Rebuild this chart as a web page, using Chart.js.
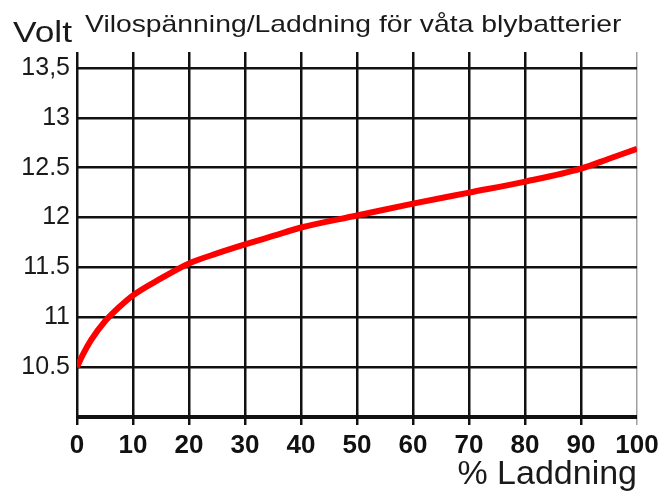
<!DOCTYPE html>
<html>
<head>
<meta charset="utf-8">
<script src="https://cdn.jsdelivr.net/npm/chart.js@4.4.0/dist/chart.umd.min.js"></script>
<style>
  html, body { margin: 0; padding: 0; background: #fff; }
  #wrap { width: 658px; height: 496px; }
</style>
</head>
<body>
<div id="wrap"><canvas id="chart" width="658" height="496"></canvas></div>
<script>
// charge in percent and the resting voltage
const chargePct = [0, 1, 2.5, 5, 7.5, 10, 15, 20, 25, 30, 35, 40, 50, 60, 70, 80, 90, 95, 100];
const voltage = [10.5, 10.62, 10.77, 10.96, 11.1, 11.22, 11.39, 11.54, 11.64, 11.73, 11.815, 11.9, 12.02, 12.14, 12.25, 12.36, 12.49, 12.59, 12.69];

const xTickValues = [0, 10, 20, 30, 40, 50, 60, 70, 80, 90, 100];
const yTickValues = [10, 10.5, 11, 11.5, 12, 12.5, 13, 13.5];
const yTickLabels = ['', '10.5', '11', '11.5', '12', '12.5', '13', '13,5'];

const titleText = 'Vilospänning/Laddning för våta blybatterier';
const yAxisText = 'Volt';
const xAxisText = '% Laddning';

// the top texts are a bit wider than the font, so stretch them sideways
function stretchedText(ctx, text, x, y, size, stretch) {
    ctx.save();
    ctx.font = size + 'px "Liberation Sans", Arial, sans-serif';
    ctx.fillStyle = '#1a1a1a';
    ctx.textAlign = 'left';
    ctx.textBaseline = 'alphabetic';
    ctx.scale(stretch, 1);
    ctx.fillText(text, x / stretch, y);
    ctx.restore();
}

const topTexts = {
    id: 'topTexts',
    afterDraw(chart) {
        stretchedText(chart.ctx, yAxisText, 13, 42, 30, 1.18);
        stretchedText(chart.ctx, titleText, 85, 32, 24, 1.18);
    }
};

const ctx = document.getElementById('chart').getContext('2d');
const myChart = new Chart(ctx, {
    type: 'line',
    data: {
        datasets: [{
            label: 'Volt',
            data: chargePct.map((p, i) => ({ x: p, y: voltage[i] })),
            borderColor: '#ff0000',
            borderWidth: 6,
            pointRadius: 0,
            cubicInterpolationMode: 'monotone',
            fill: false
        }]
    },
    options: {
        responsive: false,
        animation: false,
        layout: { padding: { top: 52, right: 21 } },
        plugins: {
            legend: { display: false },
            tooltip: { enabled: false }
        },
        scales: {
            x: {
                type: 'linear',
                min: 0,
                max: 100,
                afterBuildTicks: scale => { scale.ticks = xTickValues.map(v => ({ value: v })); },
                afterFit: scale => {
                    scale.height = 79;
                    scale.paddingLeft = 0;
                    scale.paddingRight = 0;
                },
                border: { display: false },
                grid: {
                    color: c => c.tick && c.tick.value === 100 ? '#a0a0a0' : '#111',
                    lineWidth: c => c.tick && c.tick.value === 100 ? 1.5 : 2.5,
                    drawTicks: true,
                    tickLength: 8,
                    tickColor: c => c.tick && c.tick.value === 100 ? '#a0a0a0' : '#111'
                },
                ticks: {
                    color: '#111',
                    padding: 5,
                    maxRotation: 0,
                    autoSkip: false,
                    font: { family: '"Liberation Sans Narrow", "Arial Narrow", sans-serif', size: 26, weight: 'bold' }
                },
                title: {
                    display: true,
                    text: xAxisText,
                    align: 'end',
                    color: '#1a1a1a',
                    font: { family: '"Liberation Sans", Arial, sans-serif', size: 34, weight: 'normal' },
                    padding: { top: 0, bottom: 1 }
                }
            },
            y: {
                min: 10,
                max: 13.66,
                afterBuildTicks: scale => { scale.ticks = yTickValues.map(v => ({ value: v })); },
                afterFit: scale => {
                    scale.width = 77;
                    scale.paddingTop = 0;
                    scale.paddingBottom = 0;
                },
                border: { display: false },
                grid: {
                    color: '#111',
                    lineWidth: c => c.tick && c.tick.value === 10 ? 4 : 2.5,
                    drawTicks: false
                },
                ticks: {
                    color: '#1a1a1a',
                    padding: 7,
                    font: { family: '"Liberation Sans", Arial, sans-serif', size: 25 },
                    callback: (value, index) => yTickLabels[index]
                }
            }
        }
    },
    plugins: [topTexts]
});
</script>
</body>
</html>
